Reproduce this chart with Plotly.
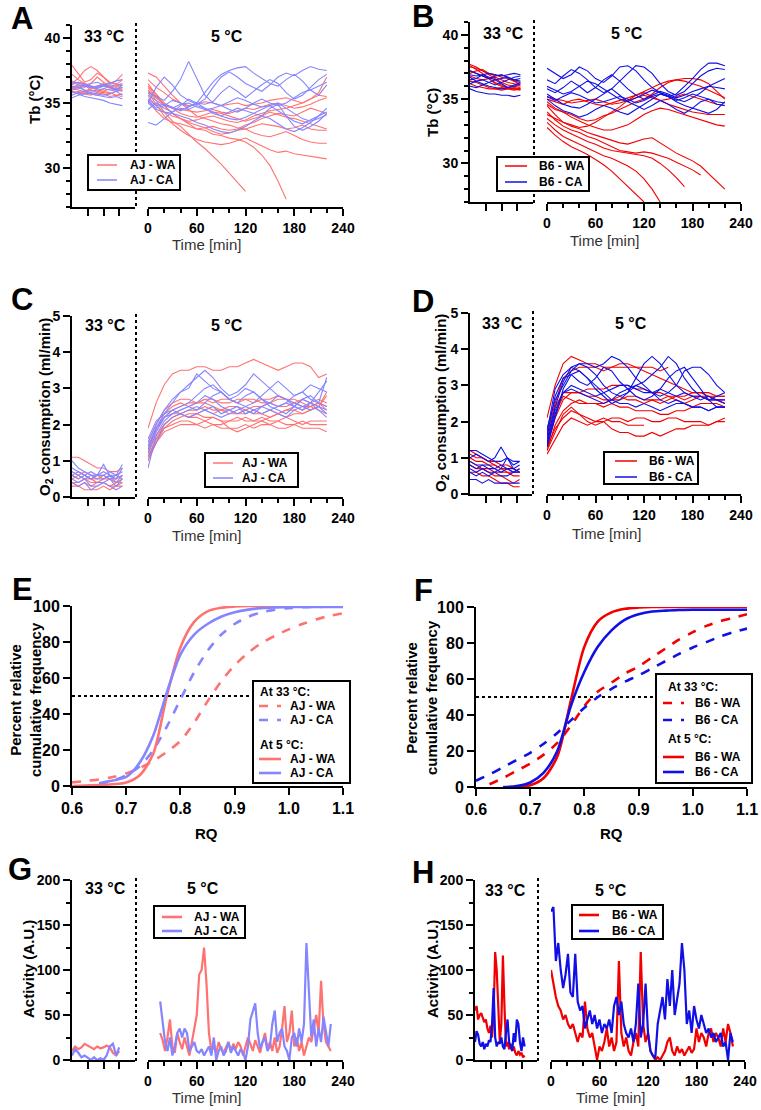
import plotly.graph_objects as go

# ================= DATA =================
T5 = [0, 10, 20, 30, 40, 50, 60, 70, 80, 90, 100, 110, 120, 130, 140, 150, 160, 170, 180, 190, 200, 210, 220]
TB = [0, 4, 8, 12, 16, 20, 24, 28, 32]

# ---- Panel A: AJ body temperature ----
A_base_WA = [
    [37.9, 37.2, 36.6, 36.8, 37.3, 37.0, 36.5, 36.7, 37.2],
    [36.5, 36.9, 37.5, 37.8, 37.5, 37.0, 36.6, 36.4, 36.8],
    [36.0, 36.2, 36.4, 36.0, 35.8, 36.1, 36.3, 36.0, 35.9],
    [35.8, 35.9, 35.7, 35.6, 35.8, 35.7, 35.5, 35.6, 35.5],
    [36.6, 36.4, 36.2, 36.5, 37.0, 36.6, 36.3, 36.2, 36.4],
    [37.2, 36.8, 36.5, 36.2, 36.0, 35.9, 36.1, 36.0, 36.2],
    [36.2, 36.0, 35.9, 36.1, 36.3, 36.5, 36.2, 36.0, 36.1],
    [35.9, 35.7, 35.8, 36.0, 35.9, 35.8, 35.7, 35.9, 36.0],
    [36.4, 36.6, 36.5, 36.3, 36.2, 36.4, 36.6, 36.5, 36.3],
    [36.1, 36.3, 36.0, 35.7, 35.6, 35.9, 35.8, 35.6, 35.7],
]
A_base_CA = [
    [36.2, 36.4, 36.3, 36.2, 36.1, 36.3, 36.2, 36.0, 36.4],
    [35.9, 35.7, 35.5, 35.4, 35.3, 35.2, 35.0, 34.9, 34.8],
    [36.5, 36.6, 36.4, 36.5, 36.6, 36.4, 36.5, 36.7, 36.8],
    [35.6, 35.8, 35.9, 35.7, 35.6, 35.5, 35.4, 35.5, 35.3],
    [36.3, 36.2, 36.0, 35.9, 36.0, 36.1, 36.0, 35.9, 36.0],
    [36.0, 36.1, 36.3, 36.2, 36.3, 36.4, 36.2, 36.1, 36.2],
    [36.7, 36.5, 36.4, 36.3, 36.2, 36.3, 36.4, 36.3, 36.5],
    [35.4, 35.6, 35.7, 35.8, 35.7, 35.6, 35.7, 35.9, 35.6],
]
A_cold_WA = [
    [36.0, 35.2, 34.3, 33.6, 33.2, 32.6, 32.0, 31.5, 30.9, 30.3, 29.6, 28.9, 28.2],
    [36.2, 35.5, 34.8, 34.2, 33.8, 33.4, 33.0, 32.9, 32.6, 32.5, 32.3, 32.2, 32.0, 31.6, 31.0, 30.2, 29.0, 27.6],
    [35.8, 34.9, 34.0, 33.4, 32.9, 32.5, 32.2, 32.0, 31.9, 31.8, 31.9, 32.1, 32.3, 32.0, 31.7, 31.4, 31.2, 31.3, 31.1, 31.0, 30.9, 30.8, 30.7],
    [36.5, 35.6, 34.8, 34.2, 33.8, 33.5, 33.3, 33.1, 32.8, 32.6, 32.7, 32.9, 33.0, 32.7, 32.5, 32.4, 32.6, 32.8, 32.5, 32.2, 32.0, 31.9, 31.9],
    [37.3, 37.0, 36.3, 35.6, 35.0, 34.5, 34.0, 33.8, 33.6, 33.4, 33.3, 33.1, 33.0, 33.2, 33.4, 33.3, 33.2, 33.0, 33.1, 33.3, 33.0, 32.9, 32.9],
    [36.0, 35.4, 34.9, 34.6, 34.5, 34.4, 34.3, 34.4, 34.5, 34.3, 34.2, 34.4, 34.6, 34.5, 34.7, 34.9, 35.0, 34.8, 34.6, 34.7, 34.9, 35.2, 35.4],
    [35.5, 34.8, 34.3, 34.0, 33.8, 33.6, 33.7, 33.9, 34.0, 33.8, 33.6, 33.5, 33.7, 34.0, 34.2, 34.4, 34.5, 34.6, 34.8, 35.0, 35.3, 35.8, 37.0],
    [36.8, 36.2, 35.8, 35.3, 35.0, 34.8, 34.9, 35.1, 35.0, 34.8, 34.9, 35.0, 34.8, 34.9, 35.0, 35.2, 35.3, 35.4, 35.2, 35.0, 35.3, 35.6, 35.5],
    [35.2, 34.4, 33.8, 33.5, 33.4, 33.2, 33.0, 33.1, 33.2, 33.0, 32.9, 33.0, 33.3, 33.5, 33.8, 34.0, 34.2, 34.1, 34.0, 34.3, 34.6, 34.4, 34.2],
    [36.3, 35.7, 35.0, 34.6, 34.2, 34.0, 33.9, 34.1, 34.3, 34.2, 34.0, 33.8, 33.6, 33.8, 34.0, 34.3, 34.1, 33.9, 33.8, 33.6, 33.4, 33.2, 33.0],
]
A_cold_CA = [
    [35.8, 35.5, 35.2, 35.9, 36.8, 38.2, 36.9, 35.6, 35.0, 34.8, 35.1, 35.4, 35.2, 34.9, 34.7, 34.8, 35.0, 34.6, 34.2, 33.8, 33.6, 33.8, 34.1],
    [35.0, 36.2, 37.0, 36.4, 35.6, 35.2, 34.9, 35.3, 36.2, 37.0, 37.4, 37.0, 36.5, 36.2, 35.9, 36.4, 37.0, 37.3, 37.1, 37.5, 37.8, 37.6, 37.5],
    [34.5, 35.0, 34.6, 34.3, 34.8, 35.3, 35.0, 35.8, 36.6, 37.2, 37.5, 37.7, 37.8, 37.3, 36.9, 36.5, 36.3, 36.8, 37.2, 36.7, 36.0, 35.6, 36.4],
    [35.2, 34.6, 34.8, 35.2, 35.0, 34.7, 35.0, 34.9, 35.1, 35.8, 36.3, 35.9, 35.4, 35.9, 36.4, 36.8, 36.5, 35.8, 35.3, 35.6, 36.2, 36.8, 37.2],
    [33.5, 33.3, 33.8, 34.3, 34.6, 34.5, 34.8, 34.6, 34.3, 34.0, 33.8, 33.7, 33.9, 34.2, 34.5, 34.8, 34.4, 34.0, 33.6, 33.4, 33.7, 34.0, 34.3],
    [35.0, 34.5, 34.3, 34.2, 34.0, 33.8, 33.5, 33.3, 33.0, 32.8, 32.7, 32.9, 33.2, 33.6, 34.0, 34.6, 34.9, 34.0, 33.2, 32.9, 33.2, 33.6, 34.2],
    [35.6, 35.2, 34.8, 34.6, 34.9, 35.0, 34.7, 34.5, 34.6, 34.8, 34.5, 34.3, 34.6, 35.0, 35.3, 35.0, 34.8, 35.0, 35.4, 35.8, 36.0, 36.3, 36.6],
    [35.3, 34.8, 34.9, 34.7, 34.4, 34.7, 35.0, 34.6, 34.2, 34.0, 34.3, 34.6, 34.4, 34.2, 34.0, 33.8, 33.4, 33.0, 32.8, 33.1, 33.5, 34.0, 34.6],
]

# ---- Panel B: B6 body temperature ----
B_base_WA = [
    [37.7, 37.5, 37.2, 36.9, 36.6, 36.3, 36.1, 36.0, 35.9],
    [37.5, 37.4, 37.2, 37.0, 36.9, 36.7, 36.6, 36.4, 36.3],
    [37.2, 37.0, 36.8, 36.6, 36.3, 36.1, 35.9, 35.8, 35.8],
    [36.4, 36.3, 36.1, 35.9, 35.8, 35.9, 35.8, 35.7, 35.8],
    [37.0, 37.2, 37.3, 37.0, 36.8, 36.9, 36.7, 36.4, 36.1],
    [36.8, 36.6, 36.5, 36.6, 36.7, 36.5, 36.3, 36.2, 36.0],
    [37.6, 37.3, 37.0, 36.6, 36.2, 36.0, 35.9, 35.8, 35.7],
    [36.2, 36.0, 35.9, 35.8, 35.8, 35.7, 35.8, 35.9, 35.8],
]
B_base_CA = [
    [36.9, 36.8, 36.9, 37.0, 36.9, 36.8, 36.9, 37.0, 36.9],
    [36.5, 36.6, 36.9, 36.7, 36.5, 36.6, 36.7, 36.5, 36.4],
    [35.8, 35.6, 35.5, 35.4, 35.4, 35.3, 35.3, 35.2, 35.3],
    [37.2, 37.0, 36.8, 36.6, 36.8, 36.9, 36.7, 36.5, 36.6],
    [36.2, 36.4, 36.5, 36.3, 36.1, 36.3, 36.5, 36.7, 36.8],
    [36.0, 35.9, 36.1, 36.3, 36.5, 36.2, 35.9, 36.1, 36.3],
    [36.7, 36.4, 36.2, 36.0, 35.9, 35.8, 35.9, 36.0, 36.2],
]
B_cold_WA = [
    [32.8, 32.2, 31.7, 31.3, 31.0, 30.7, 30.3, 29.9, 29.4, 28.8, 28.2, 27.6, 27.0],
    [33.2, 32.6, 32.1, 31.8, 31.5, 31.2, 30.9, 30.6, 30.4, 30.1, 29.8, 29.4, 28.8, 28.0, 27.0],
    [33.5, 33.0, 32.6, 32.3, 32.0, 31.7, 31.5, 31.2, 31.0, 30.9, 30.8, 30.7, 30.6, 30.4, 30.0, 29.5, 28.9, 28.2],
    [34.0, 33.4, 32.9, 32.6, 32.4, 32.1, 31.9, 31.6, 31.3, 31.0, 30.9, 30.8, 30.9, 30.8, 30.6, 30.4, 30.1, 29.8, 29.5, 29.1],
    [34.5, 33.8, 33.2, 32.9, 32.7, 32.4, 32.2, 32.0, 31.8, 31.6, 31.5, 31.7, 31.9, 32.0, 31.6, 31.2, 30.8, 30.5, 30.2, 29.8, 29.2, 28.6, 28.0],
    [34.8, 34.3, 34.0, 33.6, 33.3, 33.0, 32.8, 32.6, 32.6, 32.8, 33.0, 33.4, 33.8, 34.1, 34.3, 34.2, 34.0, 33.8, 33.6, 33.4, 33.2, 33.0, 32.9],
    [35.0, 34.8, 34.6, 34.9, 35.0, 34.8, 34.6, 34.5, 34.7, 34.9, 35.1, 35.3, 35.5, 35.2, 34.9, 34.6, 34.4, 34.2, 34.0, 33.9, 33.8, 33.8, 33.8],
    [33.8, 33.5, 33.2, 33.0, 32.8, 32.9, 33.2, 33.6, 34.0, 34.4, 34.9, 35.3, 35.6, 35.9, 36.2, 36.4, 36.5, 36.6, 36.6, 36.5, 36.2, 35.6, 35.0],
    [35.2, 35.0, 34.9, 34.7, 34.8, 34.9, 35.0, 34.8, 34.6, 34.7, 34.9, 35.1, 35.3, 35.1, 34.9, 35.0, 35.2, 35.4, 35.2, 35.0, 34.8, 34.6, 34.5],
    [34.6, 34.2, 34.0, 33.8, 33.5, 33.3, 33.4, 33.7, 33.9, 34.2, 34.5, 34.8, 35.0, 35.4, 35.9, 36.3, 36.5, 36.4, 36.2, 36.0, 35.7, 35.4, 35.1],
]
B_cold_CA = [
    [37.4, 37.0, 36.6, 36.9, 37.5, 37.2, 36.6, 36.3, 36.8, 37.5, 37.6, 37.2, 36.5, 35.9, 35.5, 35.2, 35.4, 36.0, 36.6, 37.3, 37.8, 37.8, 37.6],
    [36.5, 36.2, 36.8, 37.3, 37.0, 36.5, 35.9, 35.5, 35.8, 36.4, 37.0, 37.6, 37.5, 37.0, 36.2, 35.6, 35.3, 35.6, 36.2, 36.8, 37.2, 37.4, 37.3],
    [35.8, 35.5, 35.9, 36.4, 36.0, 35.5, 35.9, 36.5, 36.9, 36.4, 35.8, 35.3, 35.0, 35.3, 35.6, 35.4, 35.1, 35.3, 35.6, 35.8, 36.0, 35.9, 35.8],
    [35.4, 35.0, 34.6, 34.4, 34.3, 34.6, 35.0, 35.4, 35.8, 35.3, 34.8, 34.5, 34.2, 34.5, 34.9, 34.6, 34.2, 33.9, 34.3, 34.8, 35.0, 34.6, 34.5],
    [35.0, 34.5, 34.1, 33.9, 33.6, 33.8, 34.2, 34.5, 34.3, 34.0, 33.8, 34.2, 34.6, 35.0, 35.4, 35.2, 34.8, 34.5, 34.3, 34.1, 33.9, 34.2, 34.8],
    [36.0, 35.7, 35.4, 35.6, 36.0, 36.4, 36.2, 35.8, 35.4, 35.0, 34.8, 35.1, 35.4, 35.7, 35.5, 35.3, 35.0, 34.8, 35.1, 35.5, 36.0, 36.3, 36.6],
    [35.2, 34.9, 35.2, 35.5, 35.3, 35.0, 34.7, 34.8, 35.0, 35.2, 35.0, 34.7, 34.9, 35.2, 35.4, 35.2, 34.9, 35.1, 35.4, 35.2, 35.0, 34.8, 34.7],
]

# ---- Panel C: AJ O2 consumption ----
C_base_WA = [
    [1.1, 1.1, 1.0, 0.9, 0.8, 0.8, 0.7, 0.7, 0.8],
    [0.6, 0.5, 0.6, 0.5, 0.5, 0.6, 0.5, 0.5, 0.6],
    [0.4, 0.3, 0.4, 0.3, 0.3, 0.4, 0.3, 0.3, 0.4],
    [0.5, 0.6, 0.5, 0.5, 0.4, 0.5, 0.5, 0.4, 0.5],
    [0.3, 0.3, 0.2, 0.2, 0.2, 0.3, 0.2, 0.3, 0.3],
    [0.7, 0.6, 0.7, 0.6, 0.6, 0.5, 0.6, 0.5, 0.6],
    [0.4, 0.4, 0.5, 0.4, 0.4, 0.4, 0.3, 0.4, 0.4],
]
C_base_CA = [
    [1.0, 0.8, 0.7, 0.6, 0.6, 0.7, 0.6, 0.6, 0.7],
    [0.6, 0.7, 0.6, 0.5, 0.6, 0.9, 0.6, 0.5, 0.8],
    [0.5, 0.4, 0.5, 0.3, 0.4, 0.4, 0.5, 0.3, 0.5],
    [0.7, 0.6, 0.5, 0.6, 0.5, 0.5, 0.6, 0.4, 0.6],
    [0.4, 0.3, 0.4, 0.2, 0.3, 0.4, 0.3, 0.2, 0.3],
    [0.6, 0.5, 0.6, 0.5, 0.6, 0.6, 0.5, 0.6, 0.5],
    [0.8, 0.7, 0.6, 0.7, 0.6, 0.6, 0.7, 0.6, 0.9],
]
C_cold_WA = [
    [1.9, 2.6, 3.1, 3.4, 3.5, 3.5, 3.6, 3.6, 3.5, 3.5, 3.6, 3.6, 3.7, 3.8, 3.7, 3.6, 3.5, 3.6, 3.7, 3.7, 3.6, 3.3, 3.4],
    [1.2, 1.8, 2.2, 2.4, 2.5, 2.6, 2.6, 2.7, 2.6, 2.7, 2.7, 2.6, 2.7, 2.7, 2.6, 2.6, 2.7, 2.7, 2.6, 2.7, 2.6, 2.7, 2.6],
    [1.1, 1.6, 2.0, 2.2, 2.3, 2.4, 2.4, 2.5, 2.4, 2.4, 2.5, 2.5, 2.4, 2.5, 2.5, 2.6, 2.5, 2.5, 2.6, 2.5, 2.5, 2.6, 2.5],
    [1.0, 1.5, 1.8, 1.9, 2.0, 2.0, 2.0, 1.9, 2.0, 1.9, 1.9, 1.9, 2.0, 1.9, 2.0, 2.0, 1.9, 1.9, 2.0, 1.9, 1.9, 1.9, 1.8],
    [1.3, 1.9, 2.2, 2.3, 2.3, 2.2, 2.2, 2.1, 2.2, 2.1, 2.1, 2.2, 2.1, 2.1, 2.2, 2.1, 2.1, 2.2, 2.1, 2.0, 2.1, 2.1, 2.1],
    [1.4, 1.9, 2.3, 2.5, 2.6, 2.5, 2.6, 2.6, 2.5, 2.4, 2.3, 2.3, 2.4, 2.3, 2.3, 2.2, 2.3, 2.2, 2.3, 2.3, 2.4, 2.5, 2.9],
    [1.2, 1.7, 2.0, 2.2, 2.3, 2.2, 2.3, 2.2, 2.2, 2.1, 1.9, 1.8, 1.9, 2.0, 2.1, 2.2, 2.3, 2.4, 2.5, 2.4, 2.5, 2.6, 2.4],
    [1.5, 2.0, 2.4, 2.6, 2.7, 2.7, 2.6, 2.7, 2.7, 2.6, 2.6, 2.7, 2.7, 2.6, 2.7, 2.7, 2.8, 2.7, 2.7, 2.6, 2.5, 2.4, 2.3],
    [1.1, 1.6, 1.9, 2.1, 2.2, 2.3, 2.3, 2.4, 2.3, 2.4, 2.4, 2.3, 2.3, 2.4, 2.3, 2.4, 2.3, 2.4, 2.4, 2.3, 2.4, 2.5, 2.8],
    [1.0, 1.5, 1.9, 2.0, 2.1, 2.1, 2.0, 2.1, 2.0, 2.0, 2.1, 2.1, 2.2, 2.1, 2.1, 2.0, 2.1, 2.0, 2.0, 2.1, 2.0, 2.0, 2.0],
]
C_cold_CA = [
    [1.5, 2.0, 2.4, 2.7, 2.9, 3.0, 3.4, 3.2, 3.0, 2.9, 2.7, 2.6, 2.8, 2.9, 2.7, 2.6, 2.5, 2.6, 2.8, 2.9, 2.7, 2.6, 3.3],
    [1.3, 1.9, 2.3, 2.6, 2.9, 3.1, 3.3, 3.5, 3.3, 3.0, 2.8, 2.9, 3.1, 3.4, 3.2, 3.0, 2.8, 2.7, 2.6, 2.5, 2.4, 2.5, 2.3],
    [0.8, 1.7, 2.1, 2.3, 2.4, 2.5, 2.4, 2.6, 2.8, 2.9, 2.7, 2.6, 2.5, 2.6, 2.8, 3.0, 3.2, 3.0, 2.8, 2.9, 3.1, 3.0, 2.9],
    [1.2, 1.8, 2.2, 2.3, 2.4, 2.5, 2.6, 2.8, 2.7, 2.5, 2.4, 2.3, 2.4, 2.3, 2.5, 2.6, 2.8, 2.7, 2.5, 2.4, 2.6, 2.9, 3.2],
    [1.4, 1.9, 2.2, 2.4, 2.3, 2.4, 2.5, 2.4, 2.5, 2.3, 2.4, 2.5, 2.3, 2.4, 2.5, 2.4, 2.3, 2.2, 2.4, 2.5, 2.6, 2.5, 2.4],
    [1.6, 2.1, 2.3, 2.4, 2.5, 2.6, 2.8, 3.0, 3.1, 2.9, 2.7, 2.8, 3.0, 2.9, 2.7, 2.5, 2.4, 2.3, 2.5, 2.7, 2.6, 2.4, 2.2],
    [1.1, 1.5, 2.0, 2.2, 2.3, 2.2, 2.3, 2.4, 2.3, 2.2, 2.3, 2.4, 2.5, 2.4, 2.3, 2.4, 2.5, 2.6, 2.5, 2.7, 2.8, 2.6, 2.5],
]

# ---- Panel D: B6 O2 consumption ----
D_base_WA = [
    [1.2, 1.1, 1.0, 0.9, 0.8, 0.7, 0.7, 0.6, 0.6],
    [1.0, 0.9, 0.9, 0.8, 0.8, 0.7, 0.6, 0.6, 0.7],
    [0.8, 0.7, 0.7, 0.6, 0.5, 0.5, 0.4, 0.3, 0.4],
    [0.6, 0.6, 0.5, 0.5, 0.4, 0.3, 0.3, 0.2, 0.2],
    [1.1, 1.0, 1.0, 0.9, 0.9, 0.8, 0.8, 0.7, 0.6],
    [0.9, 0.8, 0.7, 0.7, 0.6, 0.6, 0.6, 0.5, 0.5],
]
D_base_CA = [
    [1.2, 1.2, 1.1, 1.0, 0.9, 0.9, 1.0, 0.9, 0.9],
    [1.0, 1.1, 1.0, 0.9, 1.0, 1.3, 1.0, 0.8, 0.9],
    [0.7, 0.6, 0.7, 0.6, 0.6, 0.7, 1.0, 0.7, 0.8],
    [0.4, 0.4, 0.3, 0.4, 0.3, 0.3, 0.3, 0.3, 0.3],
    [0.8, 0.7, 0.8, 0.7, 0.7, 0.6, 0.7, 0.6, 0.6],
    [0.9, 0.8, 0.8, 0.8, 0.7, 0.8, 0.7, 0.7, 0.6],
    [0.6, 0.5, 0.6, 0.5, 0.6, 0.5, 0.5, 0.6, 0.7],
]
D_cold_WA = [
    [2.1, 3.0, 3.6, 3.8, 3.7, 3.6, 3.6, 3.5, 3.5, 3.6, 3.6, 3.5, 3.5, 3.5, 3.4, 3.5],
    [1.5, 2.4, 2.8, 2.8, 2.8, 2.9, 2.9, 2.9, 3.0, 3.0, 3.0, 2.9, 2.9, 2.8, 2.8, 2.7, 2.7, 2.6, 2.7, 2.7, 2.6, 2.6, 2.5],
    [1.3, 2.1, 2.6, 2.8, 2.8, 2.7, 2.7, 2.6, 2.6, 2.6, 2.7, 2.7, 2.6, 2.6, 2.5, 2.6, 2.7, 2.7, 2.8, 2.8, 2.7, 2.7, 2.7],
    [1.2, 1.9, 2.3, 2.5, 2.6, 2.5, 2.5, 2.4, 2.5, 2.4, 2.4, 2.3, 2.3, 2.3, 2.2, 2.2, 2.3, 2.3, 2.4, 2.5, 2.5, 2.5, 2.4],
    [1.3, 1.8, 2.1, 2.3, 2.2, 2.1, 2.0, 2.1, 2.0, 2.0, 1.9, 1.9, 1.9],
    [1.1, 1.5, 1.9, 2.1, 2.0, 1.9, 2.0, 2.0, 1.8, 1.7, 1.7, 1.6, 1.6, 1.7, 1.6, 1.7, 1.8, 1.8, 1.9, 1.9, 1.9, 2.0, 2.0],
    [1.2, 1.7, 2.2, 2.4, 2.2, 2.0, 1.9, 2.0, 2.1, 2.1, 2.0, 2.1, 2.1, 2.0, 2.0, 2.1, 2.1, 2.0, 2.0, 2.0, 1.9, 2.0, 2.1],
    [1.4, 2.2, 2.7, 2.6, 2.5, 2.5, 2.5, 2.5, 2.6, 2.7, 2.6, 2.6, 2.5, 2.6, 2.6, 2.7, 2.6, 2.5, 2.6, 2.7, 2.7, 2.6, 2.6],
    [1.6, 2.5, 3.2, 3.4, 3.5, 3.5, 3.5, 3.4, 3.5, 3.5, 3.5, 3.5, 3.4, 3.3, 3.2, 3.1, 3.0, 2.9, 2.8, 2.8, 2.8, 2.7, 2.7],
]
D_cold_CA = [
    [1.8, 2.6, 3.0, 3.4, 3.6, 3.5, 3.3, 3.0, 2.8, 2.7, 2.8, 3.2, 3.6, 3.8, 3.6, 3.3, 3.0, 2.8, 2.7, 2.7, 2.6, 2.7, 2.8],
    [1.5, 2.4, 3.1, 3.5, 3.6, 3.6, 3.5, 3.6, 3.8, 3.7, 3.5, 3.2, 3.0, 2.8, 2.7, 2.8, 3.0, 3.4, 3.5, 3.5, 3.3, 3.0, 2.8],
    [1.3, 2.1, 2.9, 3.3, 3.4, 3.2, 2.9, 2.7, 2.5, 2.6, 2.8, 3.0, 3.1, 3.3, 3.5, 3.8, 3.6, 3.2, 2.9, 2.7, 2.6, 2.6, 2.5],
    [1.6, 2.7, 3.2, 3.3, 3.1, 3.0, 3.2, 3.5, 3.4, 3.1, 2.9, 2.7, 2.6, 2.7, 2.9, 3.2, 3.4, 3.5, 3.2, 2.9, 2.6, 2.4, 2.4],
    [1.4, 2.3, 2.8, 2.9, 2.8, 2.7, 2.6, 2.5, 2.6, 2.8, 2.9, 3.0, 2.9, 2.8, 2.6, 2.5, 2.6, 2.5, 2.4, 2.4, 2.3, 2.4, 2.4],
    [1.3, 2.2, 2.8, 3.0, 2.9, 2.8, 2.7, 2.8, 2.9, 3.0, 3.0, 2.9, 2.8, 2.8, 2.9, 2.8, 2.7, 2.8, 2.7, 2.6, 2.7, 2.6, 2.6],
    [1.7, 2.9, 3.3, 3.5, 3.4, 3.2, 3.0, 2.8, 2.6, 2.5, 2.5, 2.4, 2.5, 2.4, 2.3, 2.4, 2.5, 2.5, 2.4, 2.4, 2.3, 2.4, 2.4],
]

# ---- Panels E/F: cumulative RQ distributions ----
RQ = [0.6, 0.625, 0.65, 0.675, 0.7, 0.725, 0.75, 0.775, 0.8, 0.825, 0.85, 0.875, 0.9, 0.925, 0.95, 0.975, 1.0, 1.025, 1.05, 1.075, 1.1]
E_WA_33 = [2, 2.8, 3.6, 5, 7, 10, 14, 19, 25, 35, 47, 58, 67, 74, 79.5, 83.5, 87, 90, 92.5, 94.5, 96]
E_CA_33 = [None, None, 1, 3, 6, 11, 20, 33, 48, 63, 75, 84, 90, 94, 96.5, 98, 98.8, 99.3, 99.5, 99.6, 99.7]
E_WA_5 = [0, 0.3, 0.5, 1, 2, 6, 18, 50, 77, 91, 97, 99, 99.7, 100, 100, 100, 100, 100, 100, 100, 100]
E_CA_5 = [None, None, 1.5, 3, 5, 13, 28, 52, 73, 84, 90, 94, 96.5, 98, 98.8, 99.2, 99.5, 99.5, 99.5, 99.5, 99.5]
F_WA_33 = [None, 1.5, 5, 9, 13, 18, 24.5, 34, 45, 53, 58, 63, 67, 72, 77, 82, 86, 89.5, 92, 94, 96]
F_CA_33 = [3.5, 7, 11, 15, 19, 24, 30, 37, 44, 50, 54.5, 58.5, 62, 66, 70, 74, 77.5, 80.5, 83.5, 86, 88]
F_WA_5 = [None, None, None, 0, 1, 5, 17, 48, 78, 92, 97, 99, 99.7, 100, 100, 100, 100, 100, 100, 100, 100]
F_CA_5 = [None, None, 0, 0.5, 2.5, 8, 20, 45, 64, 78, 87, 93, 96, 97.5, 98, 98.3, 98.5, 98.5, 98.5, 98.5, 98.5]
HALF_LEVEL = 50

# ---- Panel G: AJ activity ----
G_TB = [0, 2, 4, 6, 8, 10, 12, 14, 16, 18, 20, 22, 24, 26, 28, 30]
G_base_WA = [10, 15, 12, 14, 18, 16, 14, 12, 15, 13, 14, 16, 14, 8, 5, 10]
G_base_CA = [5, 12, 8, 3, 5, 2, 0, 3, 0, 2, 0, 5, 15, 18, 5, 14]
G_T5 = [15, 18, 21, 24, 27, 30, 33, 36, 39, 42, 45, 48, 51, 54, 57, 60, 63, 66, 69, 72,
        75, 78, 81, 84, 87, 90, 93, 96, 99, 102, 105, 108, 111, 114, 117, 120, 123, 126, 129, 132,
        135, 138, 141, 144, 147, 150, 153, 156, 159, 162, 165, 168, 171, 174, 177, 180, 183, 186, 189, 192,
        195, 198, 201, 204, 207, 210, 213, 216, 219, 222, 225]
G_cold_WA = [30, 22, 10, 25, 45, 15, 8, 30, 20, 12, 25, 15, 5, 20, 35, 50, 95, 100, 125, 85,
             30, 10, 15, 8, 20, 12, 8, 15, 20, 10, 18, 12, 20, 15, 5, 15, 25, 18, 10, 22,
             15, 8, 20, 30, 12, 20, 10, 25, 8, 15, 35, 60, 20, 30, 55, 15, 25, 10, 20, 5,
             15, 25, 20, 35, 50, 30, 88, 40, 20, 15, 10]
G_cold_CA = [65, 40, 20, 10, 25, 5, 15, 30, 35, 25, 35, 30, 10, 15, 20, 10, 8, 12, 5, 10,
             15, 5, 25, 0, 10, 15, 5, 10, 20, 8, 15, 10, 5, 12, 8, 0, 15, 45, 55, 63,
             30, 12, 20, 25, 10, 15, 40, 55, 20, 30, 35, 15, 10, 0, 25, 30, 15, 35, 20, 40,
             130, 80, 25, 45, 15, 35, 20, 48, 30, 15, 40]

# ---- Panel H: B6 activity ----
H_TB = [0, 1, 2, 3, 4, 5, 6, 7, 8, 9, 10, 11, 12, 13, 14, 15, 16, 17, 18, 19, 20,
        21, 22, 23, 24, 25, 26, 27, 28, 29, 30, 31, 32]
H_base_WA = [55, 60, 45, 50, 52, 48, 42, 45, 35, 30, 38, 25, 50, 120, 100, 60, 20, 40, 116, 60,
             15, 20, 12, 18, 10, 15, 8, 5, 10, 6, 8, 3, 5]
H_base_CA = [20, 32, 28, 18, 15, 20, 12, 18, 15, 22, 20, 40, 80, 25, 15, 20, 18, 25, 15, 12,
             30, 45, 20, 15, 10, 30, 20, 45, 40, 20, 10, 25, 15]
H_T5 = [0, 3, 6, 9, 12, 15, 18, 21, 24, 27, 30, 33, 36, 39, 42, 45, 48, 51, 54, 57,
        60, 63, 66, 69, 72, 75, 78, 81, 84, 87, 90, 93, 96, 99, 102, 105, 108, 111, 114, 117,
        120, 123, 126, 129, 132, 135, 138, 141, 144, 147, 150, 153, 156, 159, 162, 165, 168, 171, 174, 177,
        180, 183, 186, 189, 192, 195, 198, 201, 204, 207, 210, 213, 216, 219, 222, 225]
H_cold_WA = [100, 85, 70, 60, 55, 45, 50, 40, 35, 40, 30, 20, 30, 25, 65, 35, 25, 30, 15, 0,
             15, 10, 20, 35, 15, 25, 10, 20, 110, 30, 15, 25, 10, 5, 20, 30, 15, 120, 40, 20,
             30, 10, 5, 0, 3, 0, 5, 10, 20, 25, 10, 5, 15, 8, 12, 5, 10, 15, 8, 12,
             35, 20, 30, 25, 15, 30, 35, 20, 30, 25, 15, 35, 20, 40, 30, 15]
H_cold_CA = [165, 170, 110, 130, 100, 80, 95, 118, 75, 70, 118, 65, 55, 60, 35, 45, 55, 40, 50, 35,
             45, 30, 40, 35, 45, 30, 60, 70, 50, 65, 40, 30, 25, 35, 20, 40, 85, 25, 40, 85,
             30, 10, 5, 2, 40, 55, 70, 45, 90, 60, 100, 50, 70, 85, 130, 100, 40, 55, 30, 60,
             45, 35, 50, 40, 30, 35, 25, 30, 20, 25, 30, 15, 20, 0, 30, 20]

# ================= STYLE =================
AJ_WA = "#FF7272"
AJ_CA = "#8585FF"
B6_WA = "#F20000"
B6_CA = "#1010E6"

W, H = 761, 1110
FONT = "Arial, 'Liberation Sans', Helvetica, sans-serif"


def fx(p):
    return p / W


def fy(p):
    return 1 - p / H


fig = go.Figure()
layout = dict(width=W, height=H, margin=dict(l=0, r=0, t=0, b=0, autoexpand=False),
              paper_bgcolor="white", plot_bgcolor="white",
              font=dict(family=FONT, color="black"), showlegend=False)
annotations = []
shapes = []
counter = {"x": 0, "y": 0}


def axname(kind, n):
    return f"{kind}axis" if n == 1 else f"{kind}axis{n}"


def axref(kind, n):
    return kind if n == 1 else f"{kind}{n}"


def base_axis(fs=14, **kw):
    d = dict(showline=True, linecolor="black", linewidth=2, ticks="outside",
             tickcolor="black", tickwidth=2, ticklen=7, showgrid=False,
             zeroline=False, fixedrange=True, automargin=False,
             tickfont=dict(family=FONT, size=fs, color="black", weight="bold"))
    d.update(kw)
    return d


MINOR = dict(ticklen=4, tickwidth=2, tickcolor="black", ticks="outside")


def split_panel(ypx, bxpx, cxpx, yr, ydt, yminor):
    counter["y"] += 1
    yn = counter["y"]
    counter["x"] += 1
    bn = counter["x"]
    counter["x"] += 1
    cn = counter["x"]
    yref, bref, cref = axref("y", yn), axref("x", bn), axref("x", cn)
    yax = base_axis(domain=[fy(ypx[1]), fy(ypx[0])], range=yr, dtick=ydt, tick0=0, anchor=bref)
    if yminor:
        yax["minor"] = dict(dtick=yminor, **MINOR)
    layout[axname("y", yn)] = yax
    layout[axname("x", bn)] = base_axis(domain=[fx(bxpx[0]), fx(bxpx[1])], range=[0, 40],
                                        tickmode="array", tickvals=[10, 20, 30],
                                        showticklabels=False, anchor=yref)
    layout[axname("x", cn)] = base_axis(domain=[fx(cxpx[0]), fx(cxpx[1])], range=[0, 240],
                                        dtick=60, tick0=0, anchor=yref,
                                        minor=dict(dtick=20, **MINOR))
    # dotted separator between baseline and cold exposure
    shapes.append(dict(type="line", xref="paper", yref="paper",
                       x0=fx(bxpx[1] + 1), x1=fx(bxpx[1] + 1), y0=fy(ypx[0] - 2), y1=fy(ypx[1] + 1),
                       line=dict(color="black", width=2, dash="dot")))
    return bref, cref, yref


def single_panel(ypx, xpx, yr, ydt, xr, xdt):
    counter["y"] += 1
    yn = counter["y"]
    counter["x"] += 1
    xn = counter["x"]
    yref, xref = axref("y", yn), axref("x", xn)
    layout[axname("y", yn)] = base_axis(fs=16, domain=[fy(ypx[1]), fy(ypx[0])], range=yr,
                                        dtick=ydt, tick0=0, anchor=xref)
    layout[axname("x", xn)] = base_axis(fs=16, domain=[fx(xpx[0]), fx(xpx[1])], range=xr,
                                        dtick=xdt, tick0=xr[0], tickformat=".1f", anchor=yref)
    return xref, yref


def add_lines(xref, yref, xs, series, color, width, name, dash="solid"):
    for ys in series:
        fig.add_trace(go.Scatter(
            x=xs[:len(ys)], y=ys, mode="lines",
            line=dict(color=color, width=width, dash=dash),
            xaxis=xref, yaxis=yref, name=name, showlegend=False, hoverinfo="skip"))


def text(xpx, ypx, s, size, bold=True, angle=0, color="black", xanchor="center"):
    annotations.append(dict(x=fx(xpx), y=fy(ypx), xref="paper", yref="paper", text=s,
                            showarrow=False, textangle=angle, xanchor=xanchor, yanchor="middle",
                            font=dict(family=FONT, size=size, color=color,
                                      weight="bold" if bold else "normal")))


def key_box(box, rows, line_x, entry_x, title_x=None):
    """Boxed key: box=(x0,y0,x1,y1) px; rows=(kind,label,color,dash,width,y)."""
    shapes.append(dict(type="rect", xref="paper", yref="paper", layer="above",
                       x0=fx(box[0]), x1=fx(box[2]), y0=fy(box[3]), y1=fy(box[1]),
                       fillcolor="white", line=dict(color="black", width=2)))
    for kind, label, col, dsh, lw, yv in rows:
        if kind == "title":
            text(title_x, yv, label, 12, xanchor="left")
        else:
            shapes.append(dict(type="line", xref="paper", yref="paper", layer="above",
                               x0=fx(line_x[0]), x1=fx(line_x[1]), y0=fy(yv), y1=fy(yv),
                               line=dict(color=col, width=lw, dash=dsh)))
            text(entry_x, yv, label, 12, xanchor="left")


# ---- Panel A ----
bx, cx, yy = split_panel((25, 207), (72, 135), (148, 343), [27, 41], 5, 1)
add_lines(bx, yy, TB, A_base_WA, AJ_WA, 1.1, "AJ - WA")
add_lines(bx, yy, TB, A_base_CA, AJ_CA, 1.1, "AJ - CA")
add_lines(cx, yy, T5, A_cold_WA, AJ_WA, 1.1, "AJ - WA")
add_lines(cx, yy, T5, A_cold_CA, AJ_CA, 1.1, "AJ - CA")
key_box((88, 155, 180, 190), [("item", "AJ - WA", AJ_WA, "solid", 1.5, 165),
                              ("item", "AJ - CA", AJ_CA, "solid", 1.5, 180)], (97, 117), 128)

# ---- Panel B ----
bx, cx, yy = split_panel((22, 202), (470, 533), (547, 741), [27, 41], 5, 1)
add_lines(bx, yy, TB, B_base_WA, B6_WA, 1.1, "B6 - WA")
add_lines(bx, yy, TB, B_base_CA, B6_CA, 1.1, "B6 - CA")
add_lines(cx, yy, T5, B_cold_WA, B6_WA, 1.1, "B6 - WA")
add_lines(cx, yy, T5, B_cold_CA, B6_CA, 1.1, "B6 - CA")
key_box((497, 157, 589, 191), [("item", "B6 - WA", B6_WA, "solid", 1.5, 166),
                               ("item", "B6 - CA", B6_CA, "solid", 1.5, 182)], (505, 527), 537)

# ---- Panel C ----
bx, cx, yy = split_panel((316, 497), (72, 135), (148, 343), [0, 5], 1, None)
add_lines(bx, yy, TB, C_base_WA, AJ_WA, 1.1, "AJ - WA")
add_lines(bx, yy, TB, C_base_CA, AJ_CA, 1.1, "AJ - CA")
add_lines(cx, yy, T5, C_cold_WA, AJ_WA, 1.1, "AJ - WA")
add_lines(cx, yy, T5, C_cold_CA, AJ_CA, 1.1, "AJ - CA")
key_box((205, 453, 298, 487), [("item", "AJ - WA", AJ_WA, "solid", 1.5, 463),
                               ("item", "AJ - CA", AJ_CA, "solid", 1.5, 478)], (213, 233), 240)

# ---- Panel D ----
bx, cx, yy = split_panel((313, 494), (470, 532), (547, 741), [0, 5], 1, None)
add_lines(bx, yy, TB, D_base_WA, B6_WA, 1.1, "B6 - WA")
add_lines(bx, yy, TB, D_base_CA, B6_CA, 1.1, "B6 - CA")
add_lines(cx, yy, T5, D_cold_WA, B6_WA, 1.1, "B6 - WA")
add_lines(cx, yy, T5, D_cold_CA, B6_CA, 1.1, "B6 - CA")
key_box((604, 452, 698, 484), [("item", "B6 - WA", B6_WA, "solid", 1.5, 461),
                               ("item", "B6 - CA", B6_CA, "solid", 1.5, 477)], (615, 637), 647)


# ---- Panels E / F ----
def cdf_panel(ypx, xpx, curves, cols, strain, box, title_x, line_x, entry_x, row_y):
    xr, yr_ = single_panel(ypx, xpx, [0, 100], 20, [0.6, 1.1], 0.1)
    shapes.append(dict(type="line", xref=xr, yref=yr_, x0=RQ[0], x1=0.96,
                       y0=HALF_LEVEL, y1=HALF_LEVEL, layer="below",
                       line=dict(color="black", width=2, dash="dot")))
    specs = [(curves[0], cols[0], "dash", f"{strain} - WA"),
             (curves[1], cols[1], "dash", f"{strain} - CA"),
             (curves[2], cols[0], "solid", f"{strain} - WA"),
             (curves[3], cols[1], "solid", f"{strain} - CA")]
    for ys, c, dsh, nm in specs:
        fig.add_trace(go.Scatter(x=RQ, y=ys, mode="lines",
                                 line=dict(color=c, width=2.6, dash=dsh, shape="spline", smoothing=0.8),
                                 xaxis=xr, yaxis=yr_, name=nm, showlegend=False,
                                 hoverinfo="skip", connectgaps=False))
    rows = [("title", "At 33 °C:", None, None, 0, row_y[0]),
            ("item", specs[0][3], specs[0][1], "dash", 2.6, row_y[1]),
            ("item", specs[1][3], specs[1][1], "dash", 2.6, row_y[2]),
            ("title", "At 5 °C:", None, None, 0, row_y[3]),
            ("item", specs[2][3], specs[2][1], "solid", 2.6, row_y[4]),
            ("item", specs[3][3], specs[3][1], "solid", 2.6, row_y[5])]
    key_box(box, rows, line_x, entry_x, title_x)


cdf_panel((606, 786), (72, 343), [E_WA_33, E_CA_33, E_WA_5, E_CA_5], (AJ_WA, AJ_CA), "AJ",
          (253, 681, 350, 783), 258, (259, 281), 288, [692, 706, 720, 745, 759, 773])
cdf_panel((607, 787), (476, 747), [F_WA_33, F_CA_33, F_WA_5, F_CA_5], (B6_WA, B6_CA), "B6",
          (656, 674, 752, 783), 666, (663, 684), 693, [687, 703, 720, 739, 757, 772])

# ---- Panel G ----
bx, cx, yy = split_panel((880, 1060), (72, 135), (148, 343), [0, 200], 50, 25)
add_lines(bx, yy, G_TB, [G_base_WA], AJ_WA, 2.2, "AJ - WA")
add_lines(bx, yy, G_TB, [G_base_CA], AJ_CA, 2.2, "AJ - CA")
add_lines(cx, yy, G_T5, [G_cold_WA], AJ_WA, 2.2, "AJ - WA")
add_lines(cx, yy, G_T5, [G_cold_CA], AJ_CA, 2.2, "AJ - CA")
key_box((154, 906, 245, 938), [("item", "AJ - WA", AJ_WA, "solid", 2.6, 917),
                               ("item", "AJ - CA", AJ_CA, "solid", 2.6, 931)], (162, 182), 192)

# ---- Panel H ----
bx, cx, yy = split_panel((880, 1060), (475, 537), (551, 745), [0, 200], 50, 25)
add_lines(bx, yy, H_TB, [H_base_WA], B6_WA, 2.2, "B6 - WA")
add_lines(bx, yy, H_TB, [H_base_CA], B6_CA, 2.2, "B6 - CA")
add_lines(cx, yy, H_T5, [H_cold_WA], B6_WA, 2.2, "B6 - WA")
add_lines(cx, yy, H_T5, [H_cold_CA], B6_CA, 2.2, "B6 - CA")
key_box((572, 905, 663, 939), [("item", "B6 - WA", B6_WA, "solid", 2.6, 915),
                               ("item", "B6 - CA", B6_CA, "solid", 2.6, 931)], (579, 599), 610)

# ---- Texts ----
for lbl, x, y in [("A", 22, 18), ("B", 423, 17), ("C", 22, 299), ("D", 423, 301),
                  ("E", 22, 589), ("F", 423, 590), ("G", 20, 869), ("H", 423, 872)]:
    text(x, y, lbl, 31)

for x33, x5, y in [(104, 227, 37), (503, 627, 33), (106, 227, 325), (502, 631, 323),
                   (106, 203, 888), (506, 611, 890)]:
    text(x33, y, "33 °C", 16)
    text(x5, y, "5 °C", 16)

text(35, 100, "Tb (°C)", 15, angle=-90)
text(433, 113, "Tb (°C)", 15, angle=-90)
text(45, 407, "O<sub>2</sub> consumption (ml/min)", 15, angle=-90)
text(441, 403, "O<sub>2</sub> consumption (ml/min)", 15, angle=-90)
text(25, 700, "Percent relative<br>cumulative frequency", 15, angle=-90)
text(421, 698, "Percent relative<br>cumulative frequency", 15, angle=-90)
text(28, 969, "Activity (A.U.)", 15, angle=-90)
text(432, 969, "Activity (A.U.)", 15, angle=-90)

for x, y in [(207, 245), (604, 240), (207, 535), (606, 533), (207, 1097), (610, 1097)]:
    text(x, y, "Time [min]", 15, bold=False, color="#333333")
text(207, 833, "RQ", 15)
text(611, 833, "RQ", 15)

layout["annotations"] = annotations
layout["shapes"] = shapes
fig.update_layout(**layout)
# remove the browser's default 8px page margin so the 761x1110 figure fills the window
fig.write_html("out.html", config={"displayModeBar": False},
               post_script="document.body.style.margin='0';document.body.style.overflow='hidden';")
